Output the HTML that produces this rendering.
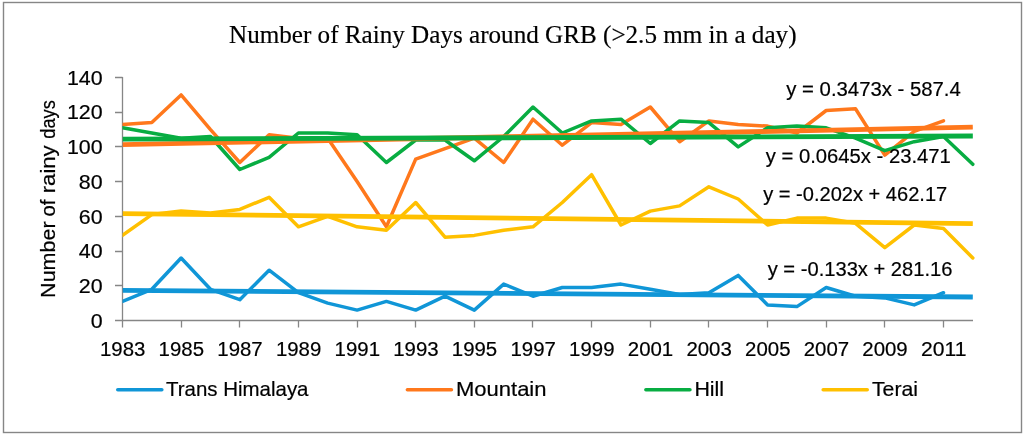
<!DOCTYPE html>
<html><head><meta charset="utf-8"><title>Number of Rainy Days around GRB</title>
<style>
html,body{margin:0;padding:0;background:#fff;}
body{width:1024px;height:437px;overflow:hidden;}
svg{display:block;}
text{font-family:"Liberation Sans",sans-serif;fill:#000;stroke:#000;stroke-width:0.2px;}
.t{font-family:"Liberation Serif",serif;stroke-width:0.18px;}
</style></head><body>
<svg width="1024" height="437" viewBox="0 0 1024 437">
<rect x="0" y="0" width="1024" height="437" fill="#fff"/>
<rect x="3.5" y="2.5" width="1018" height="430" fill="none" stroke="#868686" stroke-width="1.4"/>
<text class="t" x="229" y="43.3" font-size="25" textLength="567.5" lengthAdjust="spacingAndGlyphs">Number of Rainy Days around GRB (&gt;2.5 mm in a day)</text>
<g stroke="#868686" stroke-width="1.3" fill="none">
<path d="M122.5 77 V327.5 M115 320.5 H973"/>
<path d="M115 285.5 H122.5 M115 251.5 H122.5 M115 216.5 H122.5 M115 181.5 H122.5 M115 146.5 H122.5 M115 112.5 H122.5 M115 77.5 H122.5 M181.5 320.5 V327.5 M239.5 320.5 V327.5 M298.5 320.5 V327.5 M357.5 320.5 V327.5 M415.5 320.5 V327.5 M474.5 320.5 V327.5 M532.5 320.5 V327.5 M591.5 320.5 V327.5 M650.5 320.5 V327.5 M708.5 320.5 V327.5 M767.5 320.5 V327.5 M826.5 320.5 V327.5 M884.5 320.5 V327.5 M943.5 320.5 V327.5 "/>
</g>
<text x="102.6" y="327.7" font-size="20.3" text-anchor="end" textLength="11.9" lengthAdjust="spacingAndGlyphs">0</text>
<text x="102.6" y="293.0" font-size="20.3" text-anchor="end" textLength="23.8" lengthAdjust="spacingAndGlyphs">20</text>
<text x="102.6" y="258.3" font-size="20.3" text-anchor="end" textLength="23.8" lengthAdjust="spacingAndGlyphs">40</text>
<text x="102.6" y="223.6" font-size="20.3" text-anchor="end" textLength="23.8" lengthAdjust="spacingAndGlyphs">60</text>
<text x="102.6" y="188.8" font-size="20.3" text-anchor="end" textLength="23.8" lengthAdjust="spacingAndGlyphs">80</text>
<text x="102.6" y="154.1" font-size="20.3" text-anchor="end" textLength="35.7" lengthAdjust="spacingAndGlyphs">100</text>
<text x="102.6" y="119.4" font-size="20.3" text-anchor="end" textLength="35.7" lengthAdjust="spacingAndGlyphs">120</text>
<text x="102.6" y="84.7" font-size="20.3" text-anchor="end" textLength="35.7" lengthAdjust="spacingAndGlyphs">140</text>
<text x="122.7" y="355.9" font-size="20.3" text-anchor="middle" textLength="45.4" lengthAdjust="spacingAndGlyphs">1983</text>
<text x="181.3" y="355.9" font-size="20.3" text-anchor="middle" textLength="45.4" lengthAdjust="spacingAndGlyphs">1985</text>
<text x="240.0" y="355.9" font-size="20.3" text-anchor="middle" textLength="45.4" lengthAdjust="spacingAndGlyphs">1987</text>
<text x="298.6" y="355.9" font-size="20.3" text-anchor="middle" textLength="45.4" lengthAdjust="spacingAndGlyphs">1989</text>
<text x="357.3" y="355.9" font-size="20.3" text-anchor="middle" textLength="45.4" lengthAdjust="spacingAndGlyphs">1991</text>
<text x="415.9" y="355.9" font-size="20.3" text-anchor="middle" textLength="45.4" lengthAdjust="spacingAndGlyphs">1993</text>
<text x="474.5" y="355.9" font-size="20.3" text-anchor="middle" textLength="45.4" lengthAdjust="spacingAndGlyphs">1995</text>
<text x="533.2" y="355.9" font-size="20.3" text-anchor="middle" textLength="45.4" lengthAdjust="spacingAndGlyphs">1997</text>
<text x="591.8" y="355.9" font-size="20.3" text-anchor="middle" textLength="45.4" lengthAdjust="spacingAndGlyphs">1999</text>
<text x="650.5" y="355.9" font-size="20.3" text-anchor="middle" textLength="45.4" lengthAdjust="spacingAndGlyphs">2001</text>
<text x="709.1" y="355.9" font-size="20.3" text-anchor="middle" textLength="45.4" lengthAdjust="spacingAndGlyphs">2003</text>
<text x="767.8" y="355.9" font-size="20.3" text-anchor="middle" textLength="45.4" lengthAdjust="spacingAndGlyphs">2005</text>
<text x="826.4" y="355.9" font-size="20.3" text-anchor="middle" textLength="45.4" lengthAdjust="spacingAndGlyphs">2007</text>
<text x="885.0" y="355.9" font-size="20.3" text-anchor="middle" textLength="45.4" lengthAdjust="spacingAndGlyphs">2009</text>
<text x="943.7" y="355.9" font-size="20.3" text-anchor="middle" textLength="45.4" lengthAdjust="spacingAndGlyphs">2011</text>
<text transform="translate(54.6,297.9) rotate(-90)" font-size="20.3" textLength="76.5" lengthAdjust="spacingAndGlyphs">Number</text>
<text transform="translate(54.6,216.6) rotate(-90)" font-size="20.3" textLength="17.0" lengthAdjust="spacingAndGlyphs">of</text>
<text transform="translate(54.6,193.3) rotate(-90)" font-size="20.3" textLength="48.0" lengthAdjust="spacingAndGlyphs">rainy</text>
<text transform="translate(54.6,138.7) rotate(-90)" font-size="20.3" textLength="38.6" lengthAdjust="spacingAndGlyphs">days</text>
<clipPath id="cp"><rect x="122.5" y="60" width="870" height="262"/></clipPath><g clip-path="url(#cp)">
<polyline points="122.5,301.4 151.8,289.3 181.1,258.0 210.5,289.3 239.8,299.7 269.1,270.2 298.4,292.7 327.7,303.1 357.1,310.1 386.4,301.4 415.7,310.1 445.0,296.2 474.3,310.1 503.7,284.1 533.0,296.2 562.3,287.5 591.6,287.5 621.0,284.1 650.3,289.3 679.6,294.5 708.9,292.7 738.2,275.4 767.6,304.9 796.9,306.6 826.2,287.5 855.5,296.2 884.8,297.9 914.2,304.9 943.5,292.7" fill="none" stroke="#1096d7" stroke-width="3.5" stroke-linejoin="round" stroke-linecap="round"/>
<polyline points="122.5,124.4 151.8,122.6 181.1,94.9 210.5,129.6 239.8,162.5 269.1,134.8 298.4,138.2 327.7,138.2 357.1,181.6 386.4,226.8 415.7,159.1 445.0,148.7 474.3,138.2 503.7,162.5 533.0,119.2 562.3,145.2 591.6,122.6 621.0,124.4 650.3,107.0 679.6,141.7 708.9,120.9 738.2,124.4 767.6,126.1 796.9,133.0 826.2,110.5 855.5,108.7 884.8,155.1 914.2,131.3 943.5,120.9" fill="none" stroke="#ff781c" stroke-width="3.5" stroke-linejoin="round" stroke-linecap="round"/>
<polyline points="122.5,127.8 151.8,133.0 181.1,138.2 210.5,136.5 239.8,169.5 269.1,157.3 298.4,133.0 327.7,133.0 357.1,134.8 386.4,162.5 415.7,140.0 445.0,140.0 474.3,160.8 503.7,136.5 533.0,107.0 562.3,133.0 591.6,120.9 621.0,119.2 650.3,143.5 679.6,120.9 708.9,122.6 738.2,146.9 767.6,127.8 796.9,126.1 826.2,127.8 855.5,138.2 884.8,150.7 914.2,141.7 943.5,136.5 972.8,164.3" fill="none" stroke="#08ad42" stroke-width="3.5" stroke-linejoin="round" stroke-linecap="round"/>
<polyline points="122.5,235.4 151.8,214.6 181.1,211.1 210.5,212.9 239.8,209.4 269.1,197.3 298.4,226.8 327.7,216.4 357.1,226.8 386.4,230.2 415.7,202.5 445.0,237.2 474.3,235.4 503.7,230.2 533.0,226.8 562.3,202.5 591.6,174.7 621.0,225.0 650.3,211.1 679.6,205.9 708.9,186.8 738.2,199.0 767.6,225.0 796.9,218.1 826.2,218.1 855.5,223.3 884.8,247.6 914.2,225.0 943.5,228.5 972.8,258.0" fill="none" stroke="#ffc000" stroke-width="3.5" stroke-linejoin="round" stroke-linecap="round"/>
<line x1="122.5" y1="290.3" x2="972.8" y2="297.0" stroke="#1096d7" stroke-width="4.8"/>
<line x1="122.5" y1="144.7" x2="972.8" y2="127.2" stroke="#ff781c" stroke-width="4.8"/>
<line x1="122.5" y1="139.2" x2="972.8" y2="136.0" stroke="#08ad42" stroke-width="4.8"/>
<line x1="122.5" y1="213.6" x2="972.8" y2="223.7" stroke="#ffc000" stroke-width="4.8"/>
</g>
<text x="786.3" y="96.0" font-size="20.3" textLength="174.5" lengthAdjust="spacingAndGlyphs">y = 0.3473x - 587.4</text>
<text x="765.7" y="163.4" font-size="20.3" textLength="185.2" lengthAdjust="spacingAndGlyphs">y = 0.0645x - 23.471</text>
<text x="763.2" y="200.8" font-size="20.3" textLength="184.0" lengthAdjust="spacingAndGlyphs">y = -0.202x + 462.17</text>
<text x="767.7" y="276.4" font-size="20.3" textLength="184.8" lengthAdjust="spacingAndGlyphs">y = -0.133x + 281.16</text>
<line x1="117.8" y1="389.8" x2="161.8" y2="389.8" stroke="#1096d7" stroke-width="3.6" stroke-linecap="round"/>
<text x="166.0" y="395.8" font-size="20.3" textLength="142.5" lengthAdjust="spacingAndGlyphs">Trans Himalaya</text>
<line x1="407.4" y1="389.8" x2="451.4" y2="389.8" stroke="#ff781c" stroke-width="3.6" stroke-linecap="round"/>
<text x="456.0" y="395.8" font-size="20.3" textLength="90.5" lengthAdjust="spacingAndGlyphs">Mountain</text>
<line x1="645.9" y1="389.8" x2="689.9" y2="389.8" stroke="#08ad42" stroke-width="3.6" stroke-linecap="round"/>
<text x="694.4" y="395.8" font-size="20.3" textLength="29.7" lengthAdjust="spacingAndGlyphs">Hill</text>
<line x1="823.2" y1="389.8" x2="867.2" y2="389.8" stroke="#ffc000" stroke-width="3.6" stroke-linecap="round"/>
<text x="872.0" y="395.8" font-size="20.3" textLength="46.0" lengthAdjust="spacingAndGlyphs">Terai</text>
</svg></body></html>
